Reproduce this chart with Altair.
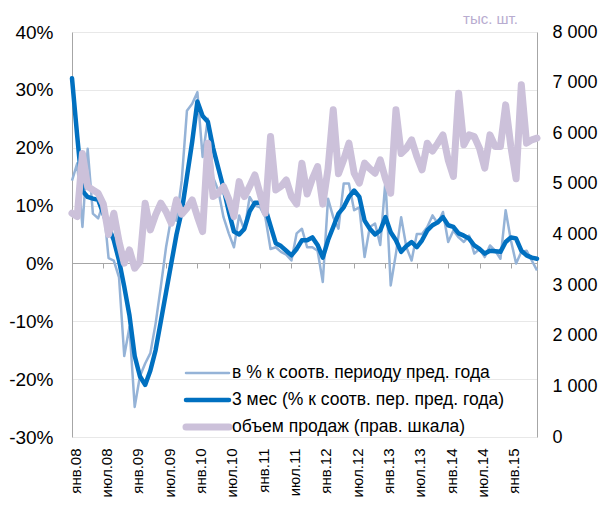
import altair as alt
import pandas as pd

tick_labels = ["янв.08", "июл.08", "янв.09", "июл.09", "янв.10", "июл.10", "янв.11",
               "июл.11", "янв.12", "июл.12", "янв.13", "июл.13", "янв.14", "июл.14", "янв.15"]

# % к соотв. периоду пред. года (monthly)
yoy = [14.3, 17.3, 6.3, 19.8, 8.6, 7.8, 10.4, 0.9, 0.5, -2.4,
       -16, -11, -24.8, -19.5, -17.3, -15.5, -10.4, -4, 2.8, 8,
       7.4, 14.3, 26.4, 27.6, 29.6, 18.4, 25, 14.9, 12.6, 8,
       5.2, 2.8, 8.3, 5.7, 11.5, 10, 9.7, 8, 2.5, 2.8,
       2, 1.5, 0.5, 5.2, 6, 2.8, 2.8, 2.2, -3.2, 11.2,
       8, 6, 13.8, 13.8, 9.2, 9.7, 1.1, 6.3, 6.9, 3.2,
       14.3, -3.8, 1.7, 8, 2.8, 0.5, 5.1, 5.1, 6.3, 8.3,
       6.9, 8.9, 3.7, 5.7, 4.5, 3.7, 4.8, 1.7, 2.5, 1.1,
       3.1, 2.2, 0.8, 9.2, 4, 0, 2, 2.2, 0.5, -1.2]

# 3 мес
m3 = [32, 22, 12.5, 11.5, 11.2, 11, 8.6, 6.3, 4, 0.5,
      -4, -9, -16, -19.5, -21, -18.5, -15, -10, -5, 0,
      5, 9, 15, 21, 28, 25.5, 24.5, 20, 16.5, 13,
      9, 5.5, 5, 6, 9, 10.5, 10.5, 9.5, 6.5, 3.5,
      3, 2.2, 1.4, 2.5, 4, 4, 4.5, 3.2, 1, 4,
      6.3, 8.6, 9.7, 11.5, 12.6, 11.5, 7.4, 6, 5, 5.7,
      8, 5.4, 4, 2, 3, 3.7, 2.8, 4, 5.7, 6.6,
      7.1, 8, 6.6, 6.3, 5.2, 4.8, 4.3, 3.1, 2.5, 1.7,
      2.2, 2.1, 2.0, 3.7, 4.5, 4.3, 2.2, 1.4, 1.0, 0.8]

# объем продаж, тыс. шт.
vol = [4420, 4354, 5600, 4947, 4881, 4816, 4600, 4000, 4420, 3860,
       3433, 3696, 3334, 3465, 4618, 4091, 4387, 4618, 4453, 4223,
       4684, 4400, 4520, 4684, 4354, 4058, 5804, 4750, 4816, 4947,
       4700, 4354, 5045, 4750, 4950, 5178, 4800, 4421, 5935, 4881,
       4950, 5079, 4750, 4600, 5409, 4800, 5100, 5342, 4600, 5300,
       6462, 5200, 5474, 5804, 5211, 5014, 5409, 5300, 5211, 5474,
       5100, 4816, 6462, 5600, 5700, 5870, 5540, 5277, 5804, 5650,
       5800, 5968, 5474, 5145, 6792, 5771, 5968, 5935, 5700, 5310,
       5968, 5738, 5738, 6561, 5738, 5100, 6957, 5804, 5870, 5903]

left_ticks = [-30, -20, -10, 0, 10, 20, 30, 40]
right_ticks = [0, 1000, 2000, 3000, 4000, 5000, 6000, 7000, 8000]
legend_names = ["в % к соотв. периоду пред. года",
                "3 мес (% к соотв. пер. пред. года)",
                "объем продаж (прав. шкала)"]

df = pd.DataFrame({"i": list(range(len(yoy))), "yoy": yoy, "m3": m3, "vol": vol})

FONT = "Liberation Sans"
C_LIGHT = "#95b3d7"
C_DARK = "#0070c0"
C_PURPLE = "#ccc1da"
AX = "#a6a6a6"
N = len(yoy) - 1

label_expr = "[" + ",".join(f"'{t}'" for t in tick_labels) + "][round(datum.value/6)]"

xscale = alt.Scale(domain=[0, N], nice=False, zero=False)
xaxis = alt.Axis(values=[6 * k for k in range(len(tick_labels))], labelExpr=label_expr,
                 labelAngle=-90, labelAlign="right", labelBaseline="middle",
                 labelFlush=False, labelOverlap=False, offset=-174, tickSize=5,
                 tickColor=AX, domainColor=AX, grid=False, labelPadding=180,
                 labelOffset=3, labelFontSize=15, labelColor="#000000", title=None)
X = alt.X("i:Q", scale=xscale, axis=xaxis)

lscale = alt.Scale(domain=[-30, 40], nice=False, zero=False)
laxis = alt.Axis(values=left_ticks, labelExpr="datum.value + '%'", grid=True,
                 gridColor="#e8e8e8", domainColor=AX, ticks=False, labelPadding=19,
                 labelFontSize=19, labelColor="#000000", title=None)

rscale = alt.Scale(domain=[0, 8000], nice=False)
raxis = alt.Axis(orient="right", values=right_ticks,
                 labelExpr="datum.value == 0 ? '0' : (datum.value/1000) + ' 000'",
                 grid=False, domainColor=AX, ticks=False, labelPadding=15,
                 labelFontSize=18, labelColor="#000000",
                 title="тыс. шт.", titleAngle=0, titleX=-47, titleY=-9,
                 titleAlign="center", titleBaseline="alphabetic", titleColor="#b8acd0",
                 titleFontSize=15, titleFontWeight="normal", titleFont=FONT)

base = alt.Chart(df)
light = base.mark_line(color=C_LIGHT, strokeWidth=2.5, strokeJoin="round").encode(
    x=X, y=alt.Y("yoy:Q", scale=lscale, axis=laxis))
dark = base.mark_line(color=C_DARK, strokeWidth=4.5, strokeJoin="round", strokeCap="round").encode(
    x=X, y=alt.Y("m3:Q", scale=lscale, axis=laxis))
left = alt.layer(light, dark)

purple = base.mark_line(color=C_PURPLE, strokeWidth=7, strokeJoin="round", strokeCap="round").encode(
    x=X, y=alt.Y("vol:Q", scale=rscale, axis=raxis))

legend_layers = []
for k, (name, color, w) in enumerate(zip(legend_names, [C_LIGHT, C_DARK, C_PURPLE], [2.5, 4.5, 7])):
    ypix = 341 + 27 * k
    d = pd.DataFrame({"t": [name]})
    legend_layers.append(alt.Chart(d).mark_rule(color=color, strokeWidth=w, strokeCap="round").encode(
        x=alt.value(114), x2=alt.value(157), y=alt.value(ypix)))
    legend_layers.append(alt.Chart(d).mark_text(align="left", baseline="middle", font=FONT,
                                                fontSize=17.5, color="#000000").encode(
        x=alt.value(160), y=alt.value(ypix), text="t:N"))

chart = alt.layer(left, purple, *legend_layers).resolve_scale(y="independent").properties(
    width=465, height=405,
    padding={"left": 64, "top": 24, "right": 61, "bottom": 65},
    autosize="none",
    background="white",
).configure_view(stroke=None).configure_axis(labelFont=FONT, titleFont=FONT)

chart.save("out.html", embed_options={"renderer": "svg", "actions": False})
